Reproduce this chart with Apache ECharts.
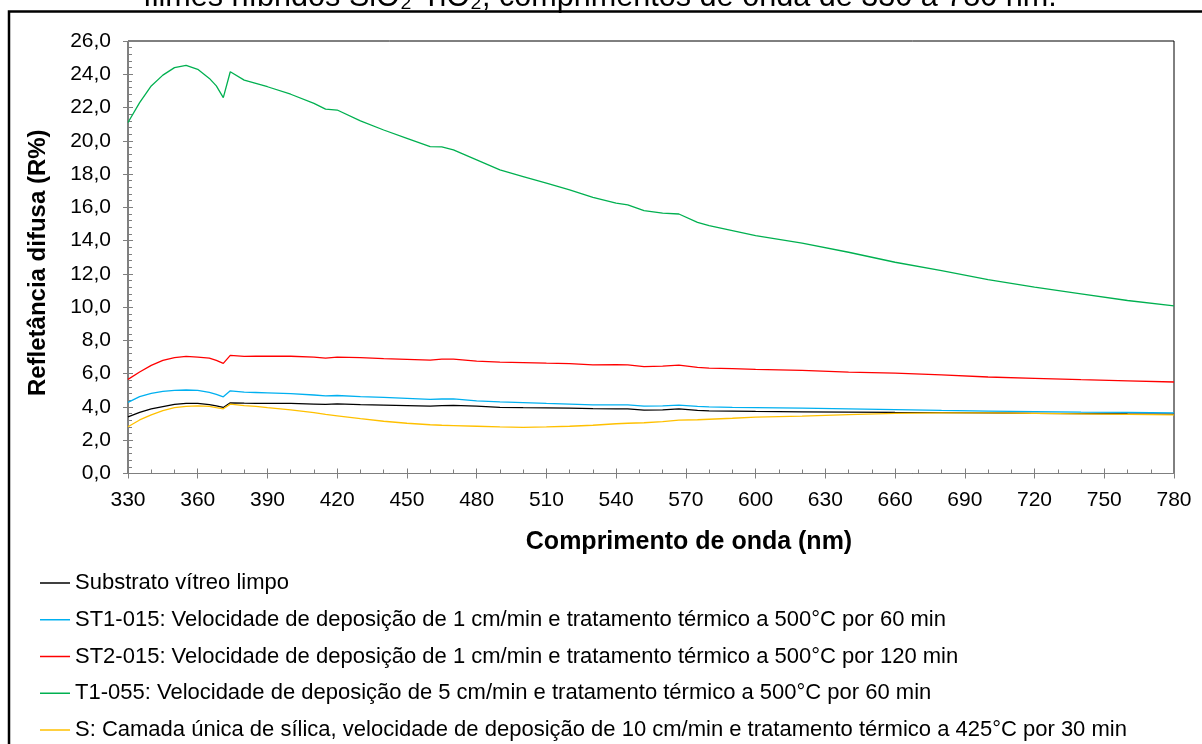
<!DOCTYPE html>
<html>
<head>
<meta charset="utf-8">
<title>Refletância difusa</title>
<script src="https://cdn.jsdelivr.net/npm/echarts@6/dist/echarts.min.js"></script>
<style>
  html, body { margin: 0; padding: 0; background: #fff; }
  #chart { width: 1202px; height: 744px; }
</style>
</head>
<body>
<div id="chart"></div>
<script>
// Wavelengths (nm) shared by every spectrum
const wavelengths = [330, 335, 340, 345, 350, 355, 360, 365, 368, 371, 374, 380, 385, 390, 400, 410, 415, 420, 430, 440,
  450, 460, 465, 470, 480, 490, 500, 510, 520, 530, 540, 545, 552, 560, 567, 575, 580, 590, 600, 620,
  640, 660, 680, 700, 720, 740, 760, 780];

// Diffuse reflectance (R%) per sample
const substrato = [3.41, 3.68, 3.88, 4.02, 4.15, 4.21, 4.21, 4.14, 4.06, 3.97, 4.25, 4.23, 4.22, 4.22, 4.21, 4.17, 4.15, 4.19, 4.14, 4.11,
  4.08, 4.05, 4.08, 4.09, 4.05, 3.98, 3.96, 3.95, 3.93, 3.90, 3.89, 3.88, 3.81, 3.83, 3.89, 3.80, 3.77, 3.75, 3.73, 3.71,
  3.69, 3.67, 3.66, 3.64, 3.62, 3.60, 3.58, 3.57];
const st1015 = [4.28, 4.62, 4.82, 4.94, 5.00, 5.02, 5.00, 4.88, 4.76, 4.61, 4.97, 4.89, 4.87, 4.85, 4.80, 4.72, 4.67, 4.69, 4.62, 4.58,
  4.52, 4.46, 4.48, 4.48, 4.37, 4.30, 4.26, 4.21, 4.17, 4.12, 4.13, 4.12, 4.05, 4.07, 4.11, 4.04, 4.01, 3.98, 3.96, 3.93,
  3.88, 3.84, 3.79, 3.75, 3.72, 3.69, 3.67, 3.65];
const st2015 = [5.66, 6.10, 6.50, 6.80, 6.97, 7.04, 7.00, 6.94, 6.80, 6.62, 7.10, 7.04, 7.05, 7.06, 7.05, 7.00, 6.94, 7.00, 6.96, 6.90,
  6.86, 6.82, 6.88, 6.87, 6.76, 6.70, 6.67, 6.63, 6.60, 6.53, 6.54, 6.53, 6.43, 6.45, 6.52, 6.38, 6.34, 6.30, 6.26, 6.20,
  6.10, 6.03, 5.93, 5.80, 5.72, 5.64, 5.57, 5.50];
const t1055 = [21.10, 22.30, 23.30, 23.95, 24.40, 24.53, 24.30, 23.75, 23.30, 22.60, 24.15, 23.65, 23.45, 23.25, 22.80, 22.25, 21.90, 21.85, 21.20, 20.65,
  20.15, 19.65, 19.63, 19.45, 18.85, 18.25, 17.85, 17.45, 17.05, 16.60, 16.25, 16.15, 15.80, 15.65, 15.60, 15.10, 14.90, 14.60, 14.30, 13.85,
  13.30, 12.70, 12.20, 11.65, 11.20, 10.80, 10.40, 10.08];
const silica = [2.81, 3.22, 3.52, 3.78, 3.96, 4.04, 4.07, 4.04, 3.96, 3.89, 4.17, 4.08, 4.03, 3.96, 3.83, 3.66, 3.55, 3.47, 3.30, 3.14,
  3.02, 2.93, 2.90, 2.88, 2.84, 2.80, 2.77, 2.80, 2.84, 2.90, 2.99, 3.02, 3.05, 3.12, 3.21, 3.23, 3.26, 3.32, 3.39, 3.45,
  3.54, 3.62, 3.65, 3.64, 3.62, 3.59, 3.56, 3.53];

const seriesNames = [
  'Substrato vítreo limpo',
  'ST1-015: Velocidade de deposição de 1 cm/min e tratamento térmico a 500°C por 60 min',
  'ST2-015: Velocidade de deposição de 1 cm/min e tratamento térmico a 500°C por 120 min',
  'T1-055: Velocidade de deposição de 5 cm/min e tratamento térmico a 500°C por 60 min',
  'S: Camada única de sílica, velocidade de deposição de 10 cm/min e tratamento térmico a 425°C por 30 min'
];
const seriesValues = [substrato, st1015, st2015, t1055, silica];
const seriesColors = ['#000000', '#00b0f0', '#ff0000', '#00b050', '#ffc000'];

const titleText = 'filmes híbridos SiO₂-TiO₂, comprimentos de onda de 330 a 780 nm.';
const xTitle = 'Comprimento de onda (nm)';
const yTitle = 'Refletância difusa (R%)';

const FONT = 'Liberation Sans, Arial, sans-serif';
const AXIS_GRAY = '#7f7f7f';

function pairs(values) {
  return wavelengths.map((w, i) => [w, values[i]]);
}

const chart = echarts.init(document.getElementById('chart'), null, { renderer: 'canvas' });

const xBase = { type: 'value', min: 330, max: 780, interval: 30, gridIndex: 0, splitLine: { show: false } };
const yBase = { type: 'value', min: 0, max: 26, interval: 2, gridIndex: 0, splitLine: { show: false } };

chart.setOption({
  backgroundColor: '#ffffff',
  animation: false,
  graphic: [
    {
      type: 'rect',
      shape: { x: 9, y: 11.5, width: 1300, height: 900 },
      style: { fill: 'none', stroke: '#000', lineWidth: 2.5 },
      silent: true
    },
    {
      type: 'text',
      x: 600, y: -2.5,
      style: {
        text: titleText,
        font: '30.6px ' + FONT,
        fill: '#000',
        textAlign: 'center',
        textVerticalAlign: 'middle'
      },
      silent: true
    }
  ],
  grid: {
    left: 128, right: 28, top: 41, bottom: 270.5,
    show: true, borderColor: '#000', borderWidth: 1, backgroundColor: 'transparent'
  },
  legend: {
    orient: 'vertical',
    left: 40, top: 572, width: 1150, height: 200,
    padding: 0,
    itemWidth: 30, itemHeight: 1.5, itemGap: 14.75,
    icon: 'rect',
    textStyle: { fontFamily: FONT, fontSize: 22, color: '#000', lineHeight: 22 },
    data: seriesNames
  },
  xAxis: [
    Object.assign({}, xBase, {
      position: 'bottom',
      axisLine: { lineStyle: { color: AXIS_GRAY, width: 1 } },
      axisTick: { inside: false, length: 5, lineStyle: { color: AXIS_GRAY } },
      axisLabel: { margin: 16, fontFamily: FONT, fontSize: 21, color: '#000' },
      name: xTitle, nameLocation: 'middle', nameGap: 56,
      nameTextStyle: { fontFamily: FONT, fontSize: 25, fontWeight: 'bold', color: '#000', padding: [0, 0, 0, 76] }
    }),
    Object.assign({}, xBase, {
      position: 'bottom',
      axisLine: { show: false },
      axisTick: { inside: true, length: 5, lineStyle: { color: AXIS_GRAY } },
      minorTick: { show: true, splitNumber: 3, length: 4, lineStyle: { color: AXIS_GRAY } },
      axisLabel: { show: false }
    })
  ],
  yAxis: [
    Object.assign({}, yBase, {
      position: 'left',
      axisLine: { show: true, lineStyle: { color: AXIS_GRAY, width: 1 } },
      axisTick: { show: true, inside: false, length: 5, lineStyle: { color: AXIS_GRAY } },
      axisLabel: {
        margin: 17, fontFamily: FONT, fontSize: 21, color: '#000',
        formatter: v => v.toFixed(1).replace('.', ',')
      },
      name: yTitle, nameLocation: 'middle', nameGap: 78,
      nameTextStyle: { fontFamily: FONT, fontSize: 24, fontWeight: 'bold', color: '#000', padding: [0, 11, 0, 0] }
    }),
    Object.assign({}, yBase, {
      position: 'left',
      axisLine: { show: false },
      axisTick: { show: true, inside: true, length: 5, lineStyle: { color: AXIS_GRAY } },
      minorTick: { show: true, splitNumber: 5, length: 4, lineStyle: { color: AXIS_GRAY } },
      axisLabel: { show: false }
    })
  ],
  series: seriesNames.map((name, i) => ({
    name: name,
    type: 'line',
    xAxisIndex: 0,
    yAxisIndex: 0,
    data: pairs(seriesValues[i]),
    symbol: 'none',
    smooth: false,
    color: seriesColors[i],
    lineStyle: { color: seriesColors[i], width: 1.3 }
  }))
});
</script>
</body>
</html>
